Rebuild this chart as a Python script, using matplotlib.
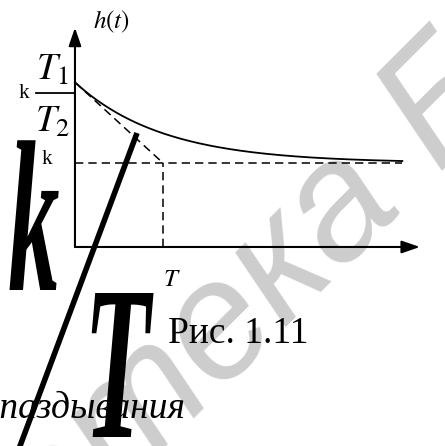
import numpy as np
import matplotlib
matplotlib.use('Agg')
import matplotlib.pyplot as plt
from matplotlib.patheffects import AbstractPathEffect
from matplotlib.transforms import Affine2D

plt.rcParams['font.family'] = 'Liberation Serif'
plt.rcParams['mathtext.fontset'] = 'stix'
plt.rcParams['lines.scale_dashes'] = False

# step response of a real differentiating / lead element
k = 1.0            # steady-state gain
T = 1.0            # time constant
ratio = 1.96       # T1/T2
h0 = k * ratio     # initial jump k*T1/T2
t_end = 3.72       # end of the drawn response
t_axis = 3.92      # length of t axis
h_axis = 2.61      # length of h axis
bar_level = 1.83   # fraction bar of the k*T1/T2 label

# visible window in (t, h) units
t_lim = (-0.852, 4.205)
h_lim = (-2.369, 2.940)

# the large "k / T" formula
slash_t = [0.705, -0.65]
slash_h = [1.357, -2.44]


class Stretch(AbstractPathEffect):
    """Stretch glyphs vertically about their baseline."""
    def __init__(self, sy, trans, xy):
        super().__init__()
        self.sy, self.trans, self.xy = sy, trans, xy

    def draw_path(self, renderer, gc, tpath, affine, rgbFace=None):
        y0 = self.trans.transform(self.xy)[1]
        tall = affine + Affine2D().translate(0, -y0).scale(1, self.sy).translate(0, y0)
        renderer.draw_path(gc, tpath, tall, rgbFace)


fig = plt.figure(figsize=(4.45, 4.46), dpi=100)
ax = fig.add_axes([0, 0, 1, 1])
ax.set_xlim(*t_lim)
ax.set_ylim(*h_lim)
ax.axis('off')

# library watermark
wm = dict(color='#cdcdcd', fontsize=120, family='Liberation Sans', style='italic',
          rotation=45, rotation_mode='anchor', va='baseline', zorder=0)
ax.text(3.75, 0.512, 'Библиотека', ha='right', **wm)
ax.text(4.125, 0.905, 'БГУИР', ha='left', **wm)

# axes with arrows
head = dict(arrowstyle='-|>,head_length=1.1,head_width=0.38', lw=1.5,
            color='k', shrinkA=0, shrinkB=0)
ax.annotate('', xy=(t_axis, 0), xytext=(0, 0), arrowprops=head)
ax.annotate('', xy=(0, h_axis), xytext=(0, 0), arrowprops=head)

# response curve
t = np.linspace(0, t_end, 300)
h = k + (h0 - k) * np.exp(-t / T)
ax.plot(t, h, color='k', lw=1.3)

# tangent at t=0 and construction lines
dash = (0, (6, 3.6))
ax.plot([0, T], [h0, k], color='k', lw=1.1, ls=dash)
ax.plot([0, t_end], [k, k], color='k', lw=1.1, ls=dash)
ax.plot([T, T], [0, k], color='k', lw=1.1, ls=dash)

# labels
ax.text(0.42, 2.68, '$h(t)$', fontsize=18, ha='center', va='center')
ax.text(-0.58, bar_level, 'k', fontsize=15, ha='center', va='center')
ax.plot([-0.44, 0], [bar_level, bar_level], color='k', lw=1.3)
ax.text(-0.25, 1.99, '$T_1$', fontsize=27, ha='center', va='baseline')
ax.text(-0.25, 1.37, '$T_2$', fontsize=27, ha='center', va='baseline')
ax.text(-0.32, 1.04, 'k', fontsize=15, ha='center', va='center')
ax.text(1.10, -0.39, '$T$', fontsize=18, ha='center', va='center')

ax.text(1.06, -1.14, 'Рис. 1.11', fontsize=27, ha='left', va='baseline')
ax.text(1.25, -2.04, 'запаздывания', fontsize=27, style='italic',
        ha='right', va='baseline')

# big k/T formula
ax.text(-0.76, -0.512, 'k', fontsize=74, style='italic', weight='bold',
        ha='left', va='baseline',
        path_effects=[Stretch(2.1, ax.transData, (-0.76, -0.512))])
ax.plot(slash_t, slash_h, color='k', lw=4, solid_capstyle='butt')
ax.text(0.477, -2.262, 'T', fontsize=78, style='italic', weight='bold',
        ha='center', va='baseline',
        path_effects=[Stretch(2.03, ax.transData, (0.477, -2.262))])

fig.savefig('out.png', dpi=100)
